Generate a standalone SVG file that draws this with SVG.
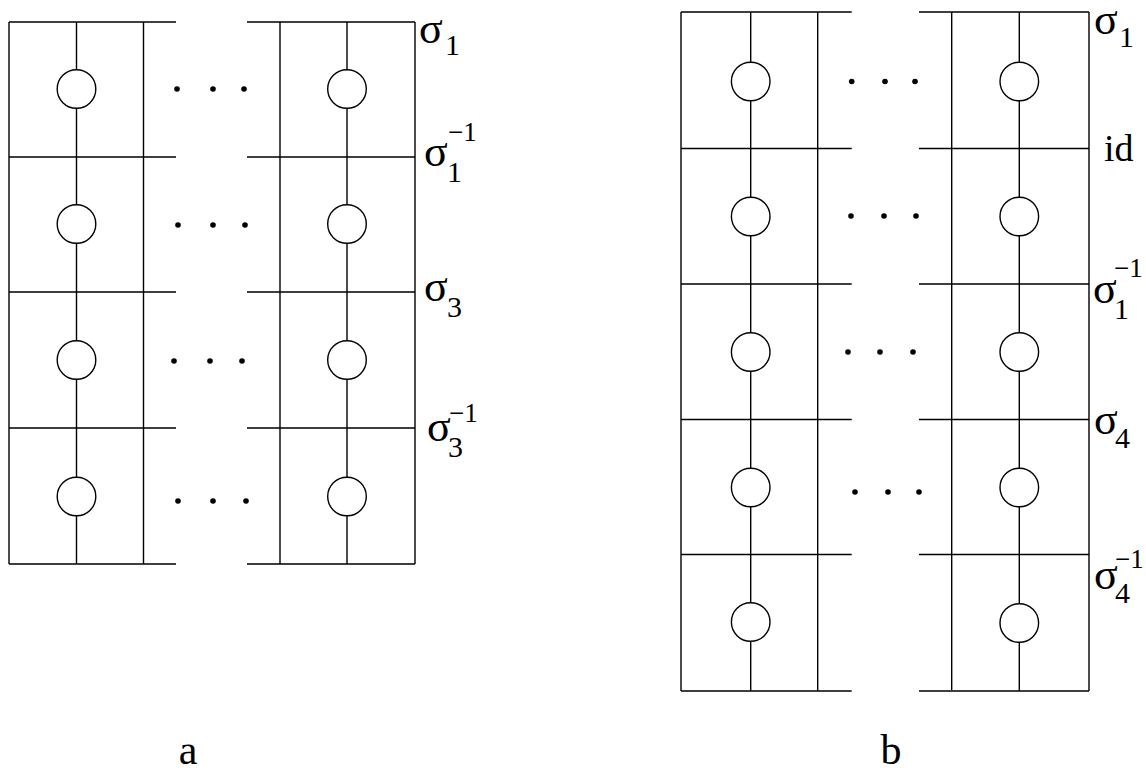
<svg xmlns="http://www.w3.org/2000/svg" width="1146" height="773" viewBox="0 0 1146 773">
<style>
.ln{stroke:#000;stroke-width:1.4;fill:none}
.c{stroke:#000;stroke-width:1.4;fill:#fff}
.d{fill:#000}
.s{font-family:"Liberation Serif","Times New Roman",serif;font-size:44px;fill:#000}
.id{font-family:"Liberation Serif","Times New Roman",serif;font-size:38px;fill:#000}
.sub{font-family:"Liberation Serif","Times New Roman",serif;font-size:30px;fill:#000}
.sup{font-family:"Liberation Serif","Times New Roman",serif;font-size:27px;fill:#000}
.cap{font-family:"Liberation Serif","Times New Roman",serif;font-size:42px;fill:#000}
</style>
<rect width="1146" height="773" fill="#fff"/>
<g id="diagram-a">
<g id="a-left" class="ln">
<path d="M9,22V564M76.5,22V564M143.5,22V564"/>
<path d="M9,22H176M9,157H176M9,292H176M9,428H176M9,564H176"/>
</g>
<g id="a-right" class="ln">
<path d="M280,22V564M347,22V564M415,22V564"/>
<path d="M247,22H415M247,157H415M247,292H415M247,428H415M247,564H415"/>
</g>
<g id="a-circles">
<circle class="c" cx="76.5" cy="89" r="19.3"/>
<circle class="c" cx="76.5" cy="224" r="19.3"/>
<circle class="c" cx="76.5" cy="360" r="19.3"/>
<circle class="c" cx="76.5" cy="496.5" r="19.3"/>
<circle class="c" cx="347" cy="89" r="19.3"/>
<circle class="c" cx="347" cy="224" r="19.3"/>
<circle class="c" cx="347" cy="360" r="19.3"/>
<circle class="c" cx="347" cy="496.5" r="19.3"/>
</g>
<g id="a-dots" class="d">
<circle cx="177" cy="89" r="2.8"/><circle cx="213" cy="89" r="2.8"/><circle cx="244" cy="89" r="2.8"/>
<circle cx="178" cy="225" r="2.8"/><circle cx="213" cy="225" r="2.8"/><circle cx="245" cy="225" r="2.8"/>
<circle cx="174" cy="361" r="2.8"/><circle cx="210" cy="361" r="2.8"/><circle cx="242" cy="361" r="2.8"/>
<circle cx="178" cy="501" r="2.8"/><circle cx="213" cy="501" r="2.8"/><circle cx="246" cy="501" r="2.8"/>
</g>
<g id="a-labels">
<text class="s" x="419" y="43">σ</text><text class="sub" x="445" y="55">1</text>
<text class="s" x="424" y="166">σ</text><text class="sub" x="447" y="182">1</text><text class="sup" x="448" y="141">−1</text>
<text class="s" x="424" y="301">σ</text><text class="sub" x="447" y="317">3</text>
<text class="s" x="427" y="441">σ</text><text class="sub" x="448" y="457">3</text><text class="sup" x="449" y="422">−1</text>
</g>
<text id="cap-a" class="cap" x="188" y="764" text-anchor="middle">a</text>
</g>
<g id="diagram-b">
<g id="b-left" class="ln">
<path d="M681,12V691M750.7,12V691M817.7,12V691"/>
<path d="M681,12H851.7M681,148.5H851.7M681,284H851.7M681,419.5H851.7M681,554.5H851.7M681,691H851.7"/>
</g>
<g id="b-right" class="ln">
<path d="M951.7,12V690M1019.3,12V691M1089,12V691"/>
<path d="M919,12H1089M919,148.5H1089M919,284H1089M919,419.5H1089M919,554.5H1089M919,691H1089"/>
</g>
<g id="b-circles">
<circle class="c" cx="750.7" cy="81.5" r="19.3"/>
<circle class="c" cx="750.7" cy="216.5" r="19.3"/>
<circle class="c" cx="750.7" cy="352" r="19.3"/>
<circle class="c" cx="750.7" cy="487.5" r="19.3"/>
<circle class="c" cx="750.7" cy="622" r="19.3"/>
<circle class="c" cx="1019.3" cy="81.5" r="19.3"/>
<circle class="c" cx="1019.3" cy="216.5" r="19.3"/>
<circle class="c" cx="1019.3" cy="352" r="19.3"/>
<circle class="c" cx="1019.3" cy="487.5" r="19.3"/>
<circle class="c" cx="1019.3" cy="623" r="19.3"/>
</g>
<g id="b-dots" class="d">
<circle cx="851.7" cy="81.5" r="2.8"/><circle cx="885" cy="81.5" r="2.8"/><circle cx="915" cy="81.5" r="2.8"/>
<circle cx="851" cy="216" r="2.8"/><circle cx="884" cy="216" r="2.8"/><circle cx="916" cy="216" r="2.8"/>
<circle cx="848" cy="352" r="2.8"/><circle cx="880" cy="352" r="2.8"/><circle cx="913" cy="352" r="2.8"/>
<circle cx="855" cy="492" r="2.8"/><circle cx="888" cy="492" r="2.8"/><circle cx="919" cy="492" r="2.8"/>
</g>
<g id="b-labels">
<text class="s" x="1094" y="34" font-size="41">σ</text><text class="sub" x="1119" y="47">1</text>
<text class="id" x="1104" y="161">id</text>
<text class="s" x="1093" y="303">σ</text><text class="sub" x="1114" y="319">1</text><text class="sup" x="1114" y="277">−1</text>
<text class="s" x="1094" y="434">σ</text><text class="sub" x="1115" y="448">4</text>
<text class="s" x="1094" y="589">σ</text><text class="sub" x="1115" y="603">4</text><text class="sup" x="1115" y="568">−1</text>
</g>
<text id="cap-b" class="cap" x="891" y="764" text-anchor="middle">b</text>
</g>
</svg>
